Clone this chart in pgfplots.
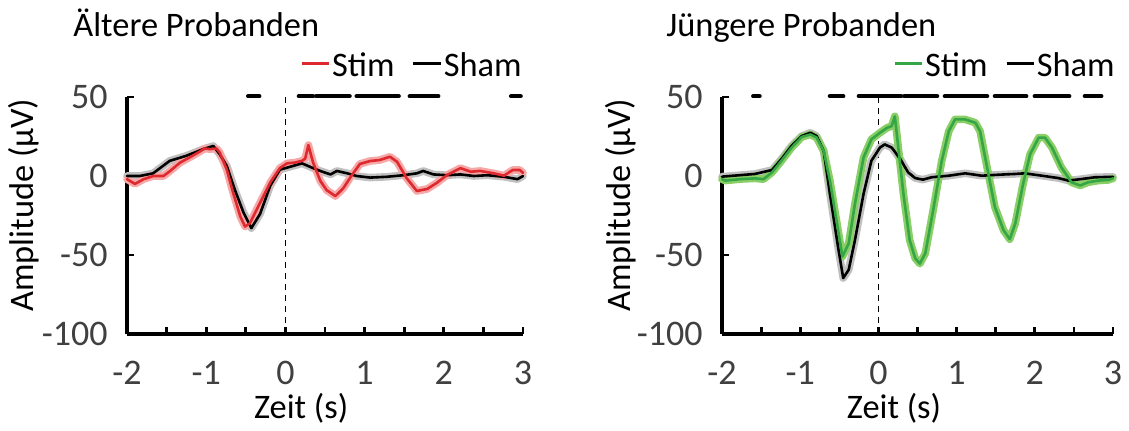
\documentclass[border=0pt]{standalone}
\usepackage{fontspec}
\setmainfont{Carlito}
\usepackage{pgfplots}
\usepackage{pgfplotstable}
\pgfplotsset{compat=1.18}

\definecolor{stimred}{RGB}{222,42,46}
\definecolor{redband}{RGB}{246,168,168}
\definecolor{stimgreen}{RGB}{52,166,70}
\definecolor{greenband}{RGB}{138,206,102}
\definecolor{shamband}{RGB}{192,192,192}
\definecolor{ticktext}{RGB}{64,64,64}

\newcommand{\chartfont}{\fontsize{17.2}{20.5}\selectfont}
\newcommand{\tickfont}{\fontsize{18}{21.5}\selectfont}

%% Ältere Probanden
\pgfplotstableread{
x y
-2.00 -2
-1.96 -3.2
-1.90 -5
-1.79 -2
-1.67 0
-1.54 0
-1.46 3
-1.33 8.5
-1.20 12
-1.08 15.5
-1.02 17.4
-0.95 17
-0.87 17.4
-0.83 15
-0.74 4
-0.66 -10.6
-0.57 -25.5
-0.51 -32
-0.45 -30
-0.32 -17
-0.19 -4
-0.07 5
0.02 8
0.12 8.5
0.21 9.6
0.25 11
0.29 19.6
0.32 14
0.35 8.5
0.44 -3
0.52 -8.9
0.63 -12.7
0.73 -7.8
0.84 0.6
0.94 7.6
1.07 9.5
1.19 10.1
1.32 12.2
1.41 9
1.53 -1.3
1.66 -9.5
1.79 -8.2
1.91 -4.4
2.04 0.6
2.21 5
2.34 2.7
2.46 3.2
2.63 1.7
2.76 0.2
2.87 3.8
2.96 3.8
3.00 2
}\oldstim

\pgfplotstableread{
x y
-2.00 0
-1.84 0
-1.67 1.7
-1.46 9.6
-1.25 12.8
-1.04 17
-0.91 19
-0.83 13.8
-0.74 6.4
-0.64 -8.5
-0.53 -23
-0.43 -33
-0.32 -24
-0.19 -6
-0.07 4
0.21 8
0.35 5
0.44 3.2
0.57 1
0.65 3.2
0.78 1.7
0.90 0
1.07 -1
1.28 -0.5
1.49 0.5
1.66 1.7
1.74 3.2
1.87 1
2.04 0.5
2.21 1
2.38 0
2.55 0.5
2.76 -0.5
2.93 -2
3.00 0
}\oldsham

%% Jüngere Probanden
\pgfplotstableread{
x y
-2.00 -2
-1.96 -2.9
-1.75 -1.9
-1.58 -1.5
-1.47 -2
-1.36 2.3
-1.24 9.6
-1.11 18
-0.98 24.7
-0.87 26.3
-0.79 24.3
-0.70 15.9
-0.62 -2.9
-0.53 -30
-0.46 -51
-0.38 -42.7
-0.30 -17.6
-0.19 11.7
-0.09 23.2
0.02 27.4
0.11 30.5
0.17 31.6
0.21 37.8
0.25 20
0.32 -11.3
0.40 -40.6
0.47 -52
0.53 -55.5
0.60 -48.9
0.70 -21.7
0.81 9.6
0.90 28.4
0.98 35.8
1.11 35.8
1.24 33.7
1.30 28.4
1.39 5.4
1.49 -19.7
1.60 -34.3
1.68 -40
1.75 -30.1
1.85 -5
1.94 13.8
2.05 24.3
2.13 24.3
2.22 18
2.34 5.4
2.47 -4
2.58 -6
2.68 -4
2.81 -2.9
2.94 -2.5
3.00 -1.5
}\youngstim

\pgfplotstableread{
x y
-2.00 -0.4
-1.58 1.3
-1.36 3.8
-1.24 10.7
-1.11 19.1
-0.98 25.3
-0.87 27.4
-0.79 25.3
-0.70 15.9
-0.62 -11.3
-0.51 -46.8
-0.45 -64.6
-0.38 -59.4
-0.30 -40.6
-0.19 -11.3
-0.09 9.6
0.02 18
0.08 20
0.17 18
0.28 10.7
0.38 2.3
0.47 -1.3
0.57 -2.3
0.68 -0.8
0.90 0.2
1.11 1.7
1.32 0.2
1.53 0.8
1.75 1.3
1.87 1.7
2.09 0.2
2.30 -1.3
2.43 -2.9
2.60 -1.9
2.77 -0.8
3.00 -0.5
}\youngsham

\pgfplotsset{
  erp/.style={
    scale only axis,
    height=118.5pt,
    xmin=-2, xmax=3, ymin=-100, ymax=50,
    axis lines=left,
    axis line style={-, line width=1.6pt, black},
    xtick={-2,-1,0,1,2,3},
    xticklabels={-2,-1,0,1,2,3},
    minor xtick={-1.5,-0.5,0.5,1.5,2.5},
    ytick={-100,-50,0,50},
    yticklabels={-100,-50,0,50},
    tick align=inside,
    major tick length=3.5pt, minor tick length=3.5pt,
    every tick/.style={line width=1.4pt, black},
    ticklabel style={font=\tickfont, text=ticktext},
    xticklabel style={anchor=base, yshift=-25pt},
    yticklabel style={anchor=east, inner sep=0pt, xshift=-9.5pt},
    label style={font=\chartfont},
    xlabel={Zeit (s)},
    ylabel={Amplitude (µV)},
    xlabel style={at={(axis description cs:0.44,-0.355)}, anchor=base},
    ylabel style={at={(axis description cs:-0.26,0.544)}, anchor=center},
    clip=false,
    unbounded coords=jump,
  },
  band/.style={line width=3.8pt, line join=round, line cap=round},
  mainline/.style={line width=1.3pt, line join=round, line cap=round},
  sigbar/.style={black, line width=2.2pt, line cap=round},
}

\begin{document}
\begin{tikzpicture}
\useasboundingbox (0,0) rectangle (564.5pt,215pt);

\begin{axis}[erp, width=198pt, at={(63.5pt,48pt)}, anchor=south west]
  \addplot[black, line width=0.8pt, dash pattern=on 3pt off 2.5pt] coordinates {(0,-100) (0,50)};
  \addplot[band, shamband] table {\oldsham};
  \addplot[band, redband] table {\oldstim};
  \addplot[mainline, black] table {\oldsham};
  \addplot[mainline, stimred] table {\oldstim};
  % significant time windows
  \addplot[sigbar] coordinates {
    (-0.47,50.5) (-0.33,50.5) (0,nan)
    (0.17,50.5) (0.35,50.5) (0,nan)
    (0.39,50.5) (0.81,50.5) (0,nan)
    (0.90,50.5) (1.43,50.5) (0,nan)
    (1.57,50.5) (1.93,50.5) (0,nan)
    (2.85,50.5) (2.97,50.5)};
\end{axis}

\begin{axis}[erp, width=195.5pt, at={(361pt,48pt)}, anchor=south west]
  \addplot[black, line width=0.8pt, dash pattern=on 3pt off 2.5pt] coordinates {(0,-100) (0,50)};
  \addplot[band, shamband] table {\youngsham};
  \addplot[band, greenband] table {\youngstim};
  \addplot[mainline, black] table {\youngsham};
  \addplot[mainline, stimgreen] table {\youngstim};
  \addplot[sigbar] coordinates {
    (-1.60,50.5) (-1.52,50.5) (0,nan)
    (-0.62,50.5) (-0.45,50.5) (0,nan)
    (-0.25,50.5) (0.29,50.5) (0,nan)
    (0.33,50.5) (0.75,50.5) (0,nan)
    (0.85,50.5) (1.39,50.5) (0,nan)
    (1.49,50.5) (1.89,50.5) (0,nan)
    (2.00,50.5) (2.44,50.5) (0,nan)
    (2.64,50.5) (2.85,50.5)};
\end{axis}

% titles
\node[anchor=base west, font=\chartfont, inner sep=0pt] at (36.5pt,197pt) {Ältere Probanden};
\node[anchor=base west, font=\chartfont, inner sep=0pt] at (333pt,197pt) {Jüngere Probanden};

% legends
\node[anchor=base east, font=\chartfont, inner sep=0pt] at (261pt,177pt)
  {\textcolor{stimred}{\rule[0.33em]{0.8em}{1.5pt}}\hspace{0.08em}Stim\hspace{0.55em}\rule[0.33em]{0.8em}{1.5pt}\hspace{0.08em}Sham};
\node[anchor=base east, font=\chartfont, inner sep=0pt] at (557.5pt,177pt)
  {\textcolor{stimgreen}{\rule[0.33em]{0.8em}{1.5pt}}\hspace{0.08em}Stim\hspace{0.55em}\rule[0.33em]{0.8em}{1.5pt}\hspace{0.08em}Sham};
\end{tikzpicture}
\end{document}
